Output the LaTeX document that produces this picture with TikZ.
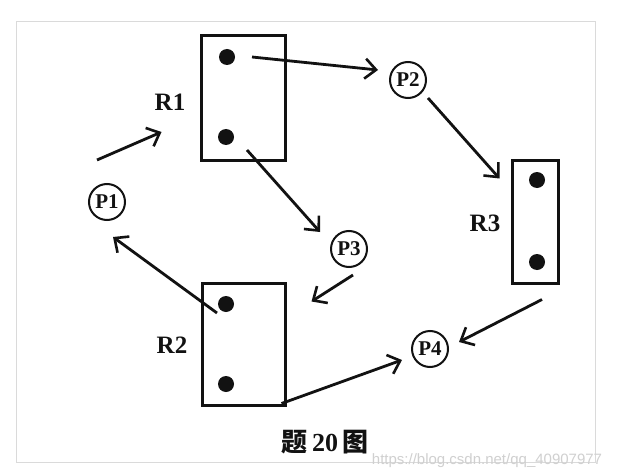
\documentclass[tikz,border=0pt]{standalone}
\usepackage{fontspec}
\setmainfont{Liberation Serif}
\newfontfamily\cjkfont{Noto Sans CJK SC}
\newfontfamily\urlfont{Liberation Sans}
\usetikzlibrary{arrows.meta, calc}
\definecolor{ink}{RGB}{18,18,18}
\definecolor{scanEdge}{RGB}{218,218,218}
\definecolor{markGray}{RGB}{208,208,208}
\tikzset{
  resbox/.style={
    draw=ink,
    line width=3pt,
    minimum height=123pt,
    inner sep=0pt
  },
  unit/.style={circle, fill=ink, minimum size=16pt, inner sep=0pt},
  proc/.style={
    circle,
    draw=ink,
    line width=2pt,
    minimum size=36pt,
    inner sep=0pt,
    text=ink,
    font=\fontsize{21}{21}\selectfont\bfseries
  },
  reslabel/.style={font=\fontsize{25}{25}\selectfont\bfseries, text=ink},
  edgearrow/.style={-{Straight Barb[length=11pt,width=20pt,line width=2.6pt]}, line width=2.8pt, draw=ink},
  caption/.style={font=\fontsize{26}{26}\selectfont\bfseries, text=ink},
  watermark/.style={font=\urlfont\fontsize{15}{15}\selectfont, text=markGray}
}

\begin{document}
\begin{tikzpicture}[x=1pt, y=-1pt]
  \useasboundingbox[fill=white] (0,0) rectangle (617,473);
  \draw[scanEdge, line width=1pt] (16,22) rectangle (595,462);

  % resources
  \node[resbox, minimum width=84pt, minimum height=124pt] (R1) at (243,98) {};
  \node[unit] (R1a) at (227,57) {};
  \node[unit] (R1b) at (226,137) {};
  \node[reslabel] (R1lab) at (170,102) {R1};

  \node[resbox, minimum width=83pt, minimum height=122pt] (R2) at (243.5,344) {};
  \node[unit] (R2a) at (226,304) {};
  \node[unit] (R2b) at (226,384) {};
  \node[reslabel] (R2lab) at (172,345) {R2};

  \node[resbox, minimum width=46pt] (R3) at (535,221.5) {};
  \node[unit] (R3a) at (537,180) {};
  \node[unit] (R3b) at (537,262) {};
  \node[reslabel] (R3lab) at (485,223) {R3};

  % processes
  \node[proc] (P1) at (107,202) {P1};
  \node[proc] (P2) at (408,80) {P2};
  \node[proc] (P3) at (349,249) {P3};
  \node[proc] (P4) at (430,349) {P4};

  \draw[edgearrow] ([shift={(-10,-42)}]P1.center) -- ([shift={(-38,34)}]R1.west);
  \draw[edgearrow] ([shift={(25,0)}]R1a.center) -- ([shift={(-30,-10)}]P2.center);
  \draw[edgearrow] ([shift={(20,18)}]P2.center) -- ([shift={(-11,20)}]R3.north west);
  \draw[edgearrow] ([shift={(21,13)}]R1b.center) -- ([shift={(-29,-17)}]P3.center);
  \draw[edgearrow] ([shift={(4,26)}]P3.center) -- ([shift={(25,20)}]R2.north east);
  \draw[edgearrow] ([shift={(-9,9)}]R2a.center) -- ([shift={(6,35)}]P1.center);
  \draw[edgearrow] ([shift={(-5,-3)}]R2.south east) -- ([shift={(-28,11)}]P4.center);
  \draw[edgearrow] ([shift={(7,15)}]R3.south) -- ([shift={(29,-7)}]P4.center);

  \node[caption] (cap) at (325,442) {{\cjkfont 题}\,20\,{\cjkfont 图}};
  \node[watermark] (mark) at (487,461) {https://blog.csdn.net/qq\_40907977};
\end{tikzpicture}
\end{document}
